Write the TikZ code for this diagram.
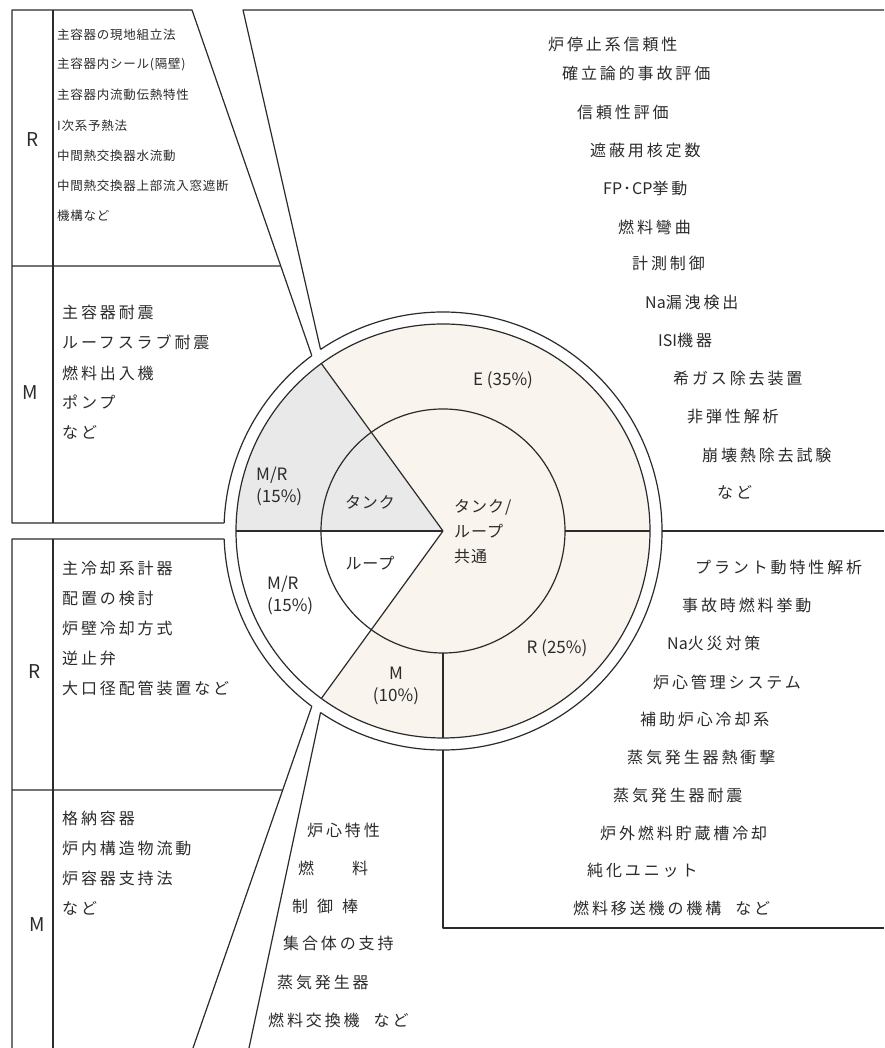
\documentclass[tikz,border=0pt]{standalone}
\usepackage{fontspec}
\setmainfont{Noto Sans CJK JP}
\newfontfamily\jp[LetterSpace=18]{Noto Sans CJK JP}
\newfontfamily\jps[LetterSpace=6]{Noto Sans CJK JP}
\newfontfamily\jpm[LetterSpace=6]{Noto Sans CJK JP}
\newfontfamily\lat{Noto Sans CJK JP}
\usetikzlibrary{calc}
\definecolor{ink}{HTML}{2B2B2B}
\definecolor{peach}{HTML}{FAF4EE}
\definecolor{greyfill}{HTML}{E9E9E9}
\begin{document}
\begin{tikzpicture}[x=1pt,y=1pt,
  ln/.style={draw=ink,line width=1.2pt,line join=round},
  item/.style={anchor=west,inner sep=0pt,font=\jp\fontsize{16}{16}\selectfont,text=ink},
  small/.style={anchor=west,inner sep=0pt,font=\jps\fontsize{12.5}{12.5}\selectfont,text=ink},
  side/.style={inner sep=0pt,font=\fontsize{19}{19}\selectfont,text=ink},
  lab/.style={inner sep=0pt,font=\fontsize{17}{22}\selectfont,text=ink},
  jlab/.style={inner sep=0pt,font=\jpm\fontsize{16}{25}\selectfont,text=ink},
]
\useasboundingbox (0,0) rectangle (884,1048);
\fill[white] (0,0) rectangle (884,1048);
\coordinate (C) at (443,517);
% fills
\fill[peach] (C) -- ($(C)+(-126:207)$) arc[start angle=-126,end angle=126,radius=207] -- cycle;
\fill[greyfill] (C) -- ($(C)+(126:207)$) arc[start angle=126,end angle=180,radius=207] -- cycle;
% circles
\draw[ln] (C) circle[radius=207];
\draw[ln] (C) circle[radius=122];
% sector lines
\draw[ln] (C) -- ($(C)+(126:207)$);
\draw[ln] (C) -- ($(C)+(180:207)$);
\draw[ln] (C) -- ($(C)+(234:207)$);
\draw[ln] ($(C)+(270:122)$) -- ($(C)+(270:207)$);
\draw[ln] ($(C)+(0:122)$) -- ($(C)+(0:207)$);
% outer ring points
\coordinate (oA) at ($(C)+(126.8:219)$);
\coordinate (oB) at ($(C)+(124:219)$);
\coordinate (oL1) at ($(C)+(177.9:219)$);
\coordinate (oL2) at ($(C)+(182.1:219)$);
\coordinate (oC) at ($(C)+(233.2:219)$);
\coordinate (oD) at ($(C)+(236:219)$);
\coordinate (oR) at ($(C)+(0:219)$);
\coordinate (oS) at ($(C)+(270:219)$);
\coordinate (tA) at (192,1038);
\coordinate (tB) at (243,1038);
\coordinate (bC) at (193,0);
\coordinate (bD) at (249,0);
% outer arcs
\draw[ln] (oA) arc[start angle=126.8,end angle=177.9,radius=219];
\draw[ln] (oL2) arc[start angle=182.1,end angle=233.2,radius=219];
\draw[ln] (oD) arc[start angle=236,end angle=484,radius=219];
% top-left boxes
\draw[ln] (oA) -- (tA) -- (12,1038) -- (12,525) -- (oL1);
\draw[ln] (53,1038) -- (53,525);
\draw[ln] (12,782) -- ($(tA)!0.7405!(oA)$);
% top-right box
\draw[ln] (oB) -- (tB) -- (884,1038);
\draw[ln] (oR) -- (884,517);
% bottom-right box
\draw[ln] (oS) -- (443,120) -- (884,120);
% bottom-left boxes
\draw[ln] (oC) -- (bC);
\draw[ln] (oL2) -- (12,509) -- (12,0);
\draw[ln] (53,509) -- (53,0);
\draw[ln] (12,258) -- ($(oC)!0.245!(bC)$);
% bottom-middle region
\draw[ln] (oD) -- (bD);

% circle labels
\node[lab] (lE) at (503,668) {E (35\%)};
\node[lab,anchor=west,align=left] (lMR1) at (256,562) {M/R\\(15\%)};
\node[lab,anchor=west,align=left] (lMR2) at (267,453) {M/R\\(15\%)};
\node[lab,align=center] (lM) at (396,362) {M\\(10\%)};
\node[lab] (lR) at (557,400) {R (25\%)};
\node[jlab] (lTank) at (370,546) {タンク};
\node[jlab] (lLoop) at (370,485) {ループ};
\node[jlab,anchor=west,align=left] (lCommon) at (454,516) {タンク/\\ループ\\共通};

% top-left R box
\node[side] (sR1) at (33,908) {R};
\node[small] (a1) at (57,1013) {主容器の現地組立法};
\node[small] (a2) at (57,984) {主容器内シール(隔壁)};
\node[small] (a3) at (57,953) {主容器内流動伝熱特性};
\node[small] (a4) at (57,922) {I次系予熱法};
\node[small] (a5) at (57,892) {中間熱交換器水流動};
\node[small] (a6) at (57,862) {中間熱交換器上部流入窓遮断};
\node[small] (a7) at (57,832) {機構など};

% top-left M box
\node[side] (sM1) at (30,655) {M};
\node[item] (b1) at (62,736) {主容器耐震};
\node[item] (b2) at (62,706) {ルーフスラブ耐震};
\node[item] (b3) at (62,675) {燃料出入機};
\node[item] (b4) at (62,646) {ポンプ};
\node[item] (b5) at (62,616) {など};

% bottom-left R box
\node[side] (sR2) at (35,376) {R};
\node[item] (c1) at (62,480) {主冷却系計器};
\node[item] (c2) at (62,450) {配置の検討};
\node[item] (c3) at (62,420) {炉壁冷却方式};
\node[item] (c4) at (62,390) {逆止弁};
\node[item] (c5) at (62,360) {大口径配管装置など};

% bottom-left M box
\node[side] (sM2) at (37,123) {M};
\node[item] (d1) at (62,230) {格納容器};
\node[item] (d2) at (62,200) {炉内構造物流動};
\node[item] (d3) at (62,170) {炉容器支持法};
\node[item] (d4) at (62,140) {など};

% bottom-middle list
\node[item] (e1) at (307,218) {炉心特性};
\node[item] (e2) at (298,180) {燃\hspace{38pt}料};
\node[item] (e3) at (292,142) {制\hspace{9pt}御\hspace{9pt}棒};
\node[item] (e4) at (283,105) {集合体の支持};
\node[item] (e5) at (277,66) {蒸気発生器};
\node[item] (e6) at (268,28) {燃料交換機\hspace{14pt}など};

% bottom-right list
\node[item] (f1) at (695,481) {プラント動特性解析};
\node[item] (f2) at (682,443) {事故時燃料挙動};
\node[item] (f3) at (667,405) {{\lat Na}火災対策};
\node[item] (f4) at (653,366) {炉心管理システム};
\node[item] (f5) at (640,329) {補助炉心冷却系};
\node[item] (f6) at (627,291) {蒸気発生器熱衝撃};
\node[item] (f7) at (613,253) {蒸気発生器耐震};
\node[item] (f8) at (600,215) {炉外燃料貯蔵槽冷却};
\node[item] (f9) at (587,178) {純化ユニット};
\node[item] (f10) at (573,140) {燃料移送機の機構\hspace{14pt}など};

% top-right list
\node[item] (g1) at (548,1004) {炉停止系信頼性};
\node[item] (g2) at (562,975) {確立論的事故評価};
\node[item] (g3) at (577,936) {信頼性評価};
\node[item] (g4) at (590,898) {遮蔽用核定数};
\node[item] (g5) at (603,860) {{\lat FP\kern1pt･\kern1pt CP}挙動};
\node[item] (g6) at (618,821) {燃料彎曲};
\node[item] (g7) at (632,785) {計測制御};
\node[item] (g8) at (645,746) {{\lat Na}漏洩検出};
\node[item] (g9) at (658,708) {{\lat ISI}機器};
\node[item] (g10) at (673,670) {希ガス除去装置};
\node[item] (g11) at (687,631) {非弾性解析};
\node[item] (g12) at (702,593) {崩壊熱除去試験};
\node[item] (g13) at (717,556) {など};
\end{tikzpicture}
\end{document}
